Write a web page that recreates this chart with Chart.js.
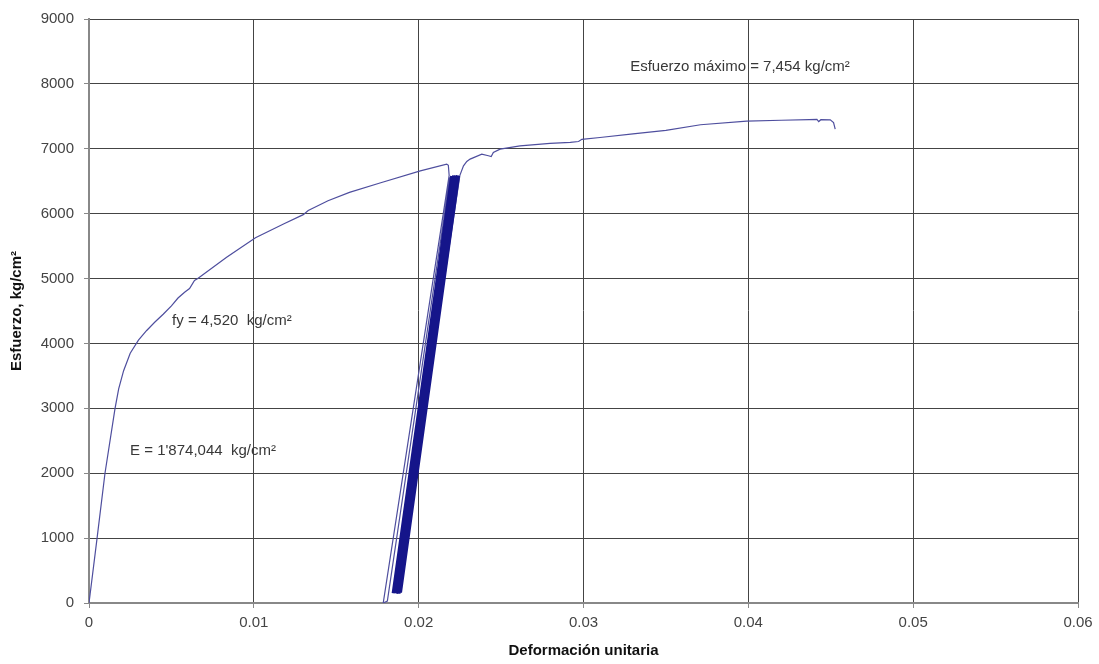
<!DOCTYPE html>
<html>
<head>
<meta charset="utf-8">
<script src="https://cdn.jsdelivr.net/npm/chart.js@4.4.0/dist/chart.umd.min.js"></script>
<style>
    html, body { margin: 0; padding: 0; background: #fff; }
    #wrap { width: 1099px; height: 664px; }
</style>
</head>
<body>
<div id="wrap"><canvas id="stressStrain"></canvas></div>
<script>
// Full test record (thin line).
const strain = [
    0, 0.00049, 0.00097, 0.00158, 0.0018, 0.0021, 0.0025, 0.0030, 0.0035, 0.0040,
    0.0045, 0.0050, 0.0054, 0.0058, 0.0061, 0.0064, 0.0066, 0.00835, 0.0101, 0.0118,
    0.0130, 0.0133, 0.0145, 0.0158, 0.0177, 0.0201, 0.0217, 0.0218, 0.02185,
    // first unloading / reloading
    0.01785, 0.0181, 0.0219, 0.0187,
    // after the loops
    0.0225, 0.02272, 0.02292, 0.02312, 0.02383, 0.02423, 0.0244, 0.02453, 0.02494, 0.02615,
    0.02797, 0.0292, 0.0297, 0.0299, 0.031, 0.033, 0.035, 0.0371, 0.0399, 0.042,
    0.0437, 0.04416, 0.04427, 0.0444, 0.04497, 0.04517, 0.04527
];
const stress = [
    0, 1000, 2000, 3000, 3300, 3580, 3850, 4050, 4200, 4330,
    4450, 4580, 4700, 4790, 4846, 4970, 5000, 5328, 5630, 5840,
    5985, 6050, 6200, 6328, 6477, 6660, 6764, 6745, 6590,
    0, 30, 6560, 140,
    6590, 6738, 6805, 6841, 6918, 6892, 6880, 6943, 6995, 7046,
    7082, 7100, 7112, 7145, 7174, 7230, 7285, 7370, 7425, 7440,
    7450, 7454, 7420, 7448, 7445, 7405, 7303
];

// Repeated unloading cycles (thick band).
const loopStrain = [0.0220, 0.01845, 0.02212, 0.01857, 0.02224, 0.01869, 0.02236, 0.01881, 0.02242, 0.0189];
const loopStress = [6580, 150, 6590, 150, 6590, 145, 6590, 145, 6585, 160];

const xTicks = [0, 0.01, 0.02, 0.03, 0.04, 0.05, 0.06];
const yTicks = [0, 1000, 2000, 3000, 4000, 5000, 6000, 7000, 8000, 9000];

const noteText = ['Esfuerzo máximo = 7,454 kg/cm²', 'fy = 4,520  kg/cm²', 'E = 1\'874,044  kg/cm²'];
const noteX = [0.03283, 0.00504, 0.00249];
const noteY = [8262, 4354, 2338];

const FONT = '"Liberation Sans", Arial, sans-serif';

function toPoints(xs, ys) {
    return xs.map((v, i) => ({ x: v, y: ys[i] }));
}

const notesPlugin = {
    id: 'notes',
    afterDatasetsDraw(chart) {
        const ctx = chart.ctx;
        const x = chart.scales.x;
        const y = chart.scales.y;
        ctx.save();
        ctx.font = '15px ' + FONT;
        ctx.fillStyle = '#383838';
        ctx.textAlign = 'left';
        ctx.textBaseline = 'middle';
        for (let i = 0; i < noteText.length; ++i) {
            ctx.fillText(noteText[i], x.getPixelForValue(noteX[i]), y.getPixelForValue(noteY[i]));
        }
        ctx.restore();
    }
};

const canvas = document.getElementById('stressStrain');

let config = {
    type: 'scatter',
    data: {
        datasets: [
            {
                label: 'Ciclos',
                data: toPoints(loopStrain, loopStress),
                showLine: true,
                borderColor: '#15158a',
                borderWidth: 3,
                pointRadius: 0,
                tension: 0
            },
            {
                label: 'Ensayo',
                data: toPoints(strain, stress),
                showLine: true,
                borderColor: '#4e4e9e',
                borderWidth: 1.2,
                pointRadius: 0,
                tension: 0
            }
        ]
    },
    options: {
        responsive: true,
        maintainAspectRatio: false,
        animation: false,
        layout: { padding: { top: 18, right: 21, bottom: 0, left: 0 } },
        plugins: {
            legend: { display: false },
            tooltip: { enabled: false }
        },
        scales: {
            x: {
                type: 'linear',
                min: 0,
                max: 0.06,
                afterFit: (scale) => { scale.height = 61; },
                afterBuildTicks: (scale) => { scale.ticks = xTicks.map(v => ({ value: v })); },
                ticks: {
                    font: { family: FONT, size: 15 },
                    color: '#444',
                    padding: 6,
                    callback: (v) => v === 0 ? '0' : String(Math.round(v * 100) / 100)
                },
                grid: { color: '#444', lineWidth: 1, tickLength: 5, tickColor: '#888' },
                border: { color: '#888', width: 2 },
                title: {
                    display: true,
                    text: 'Deformación unitaria',
                    font: { family: FONT, size: 15, weight: 'bold' },
                    color: '#111',
                    padding: { top: 0, bottom: 4 }
                }
            },
            y: {
                type: 'linear',
                min: 0,
                max: 9000,
                afterFit: (scale) => { scale.width = 89; },
                afterBuildTicks: (scale) => { scale.ticks = yTicks.map(v => ({ value: v })); },
                ticks: {
                    font: { family: FONT, size: 15 },
                    color: '#444',
                    padding: 10,
                    callback: (v) => String(v)
                },
                grid: { color: '#444', lineWidth: 1, tickLength: 5, tickColor: '#888' },
                border: { color: '#888', width: 2 },
                title: {
                    display: true,
                    text: 'Esfuerzo, kg/cm²',
                    font: { family: FONT, size: 15, weight: 'bold' },
                    color: '#111',
                    padding: { top: 8, bottom: 0 }
                }
            }
        }
    },
    plugins: [notesPlugin]
};

new Chart(canvas, config);
</script>
</body>
</html>
